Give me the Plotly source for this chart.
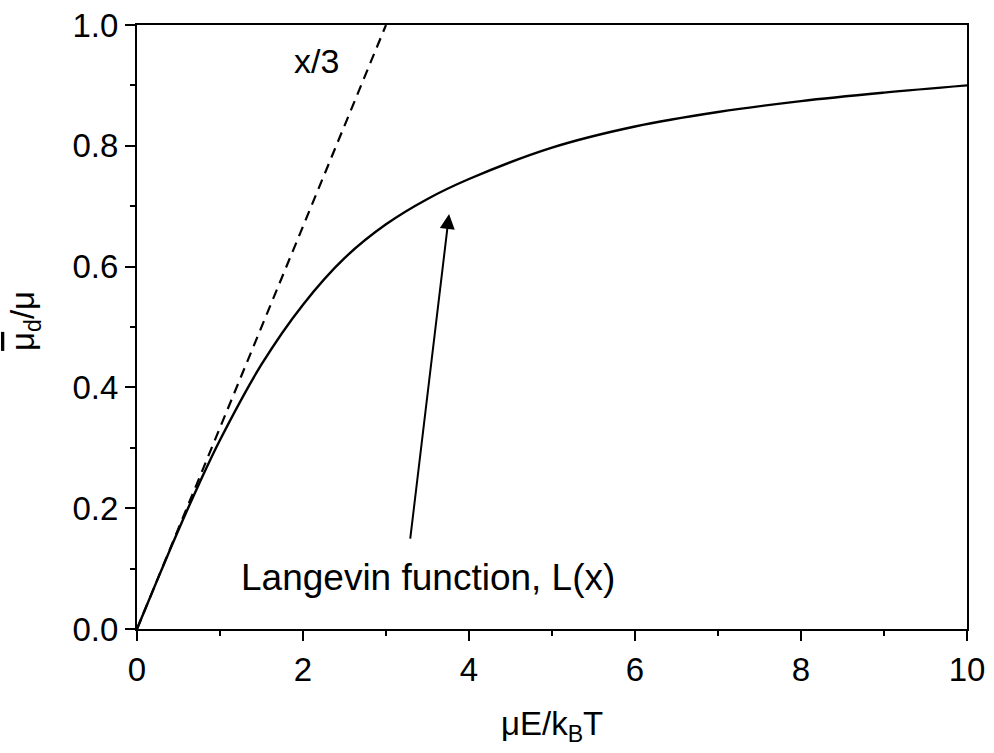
import plotly.graph_objects as go

# Langevin curve
lx = [0, 0.25, 0.5, 0.75, 1.0, 1.5, 2.0, 2.5, 3.0, 3.5, 4.0, 5.0, 6.0, 7.0, 8.0, 9.0, 10.0]
ly = [0, 0.083, 0.164, 0.241, 0.313, 0.438, 0.537, 0.614, 0.670, 0.712, 0.745, 0.797, 0.832, 0.856, 0.874, 0.888, 0.900]

# x/3 asymptote
dx = [0, 3.0]
dy = [0, 1.0]

x_ticks = [0, 2, 4, 6, 8, 10]
y_ticks = [0.0, 0.2, 0.4, 0.6, 0.8, 1.0]

FONT = "Liberation Sans, Arial, sans-serif"
fs = 33

fig = go.Figure()
fig.add_trace(go.Scatter(x=dx, y=dy, mode="lines",
                         line=dict(color="black", width=2.2, dash="10px,7px"),
                         showlegend=False))
fig.add_trace(go.Scatter(x=lx, y=ly, mode="lines",
                         line=dict(color="black", width=2.4, shape="spline"),
                         showlegend=False))

fig.update_layout(
    width=994, height=753,
    margin=dict(l=137, r=27, t=25, b=124),
    plot_bgcolor="white", paper_bgcolor="white",
    font=dict(family=FONT, size=fs, color="black"),
    xaxis=dict(range=[0, 10], tickvals=x_ticks, ticktext=[str(v) for v in x_ticks],
               automargin=False,
               showgrid=False, zeroline=False, showline=True, linecolor="black", linewidth=2,
               mirror=True, ticks="outside", ticklen=10, tickwidth=2, tickcolor="black",
               minor=dict(ticks="outside", ticklen=5, tickwidth=2, tickcolor="black", dtick=1, showgrid=False),
               tickfont=dict(size=fs)),
    yaxis=dict(range=[0, 1], tickvals=y_ticks, ticktext=[f"{v:.1f}" for v in y_ticks],
               automargin=False,
               showgrid=False, zeroline=False, showline=True, linecolor="black", linewidth=2,
               mirror=True, ticks="outside", ticklen=10, tickwidth=2, tickcolor="black",
               minor=dict(ticks="outside", ticklen=5, tickwidth=2, tickcolor="black", dtick=0.1, showgrid=False),
               tickfont=dict(size=fs)),
)

# axis titles
fig.add_annotation(text="μE/k<sub>B</sub>T", xref="paper", yref="paper",
                   x=0.5, y=-0.16, yanchor="middle", xanchor="center",
                   showarrow=False, font=dict(size=fs))
fig.add_annotation(text="<span style='text-decoration:overline'>μ</span><sub>d</sub>/μ",
                   xref="paper", yref="paper",
                   x=-0.135, y=0.51, xanchor="center", yanchor="middle", textangle=-90,
                   showarrow=False, font=dict(size=fs))

# labels
fig.add_annotation(text="x/3", x=2.16, y=0.94, xref="x", yref="y",
                   showarrow=False, font=dict(size=34))
fig.add_annotation(text="Langevin function, L(x)", x=3.5, y=0.085, xref="x", yref="y",
                   showarrow=False, font=dict(size=37))
fig.add_annotation(x=3.76, y=0.687, ax=3.29, ay=0.147, xref="x", yref="y",
                   axref="x", ayref="y", text="", showarrow=True,
                   arrowhead=2, arrowsize=1.5, arrowwidth=2, arrowcolor="black")

fig.write_html("out.html")
